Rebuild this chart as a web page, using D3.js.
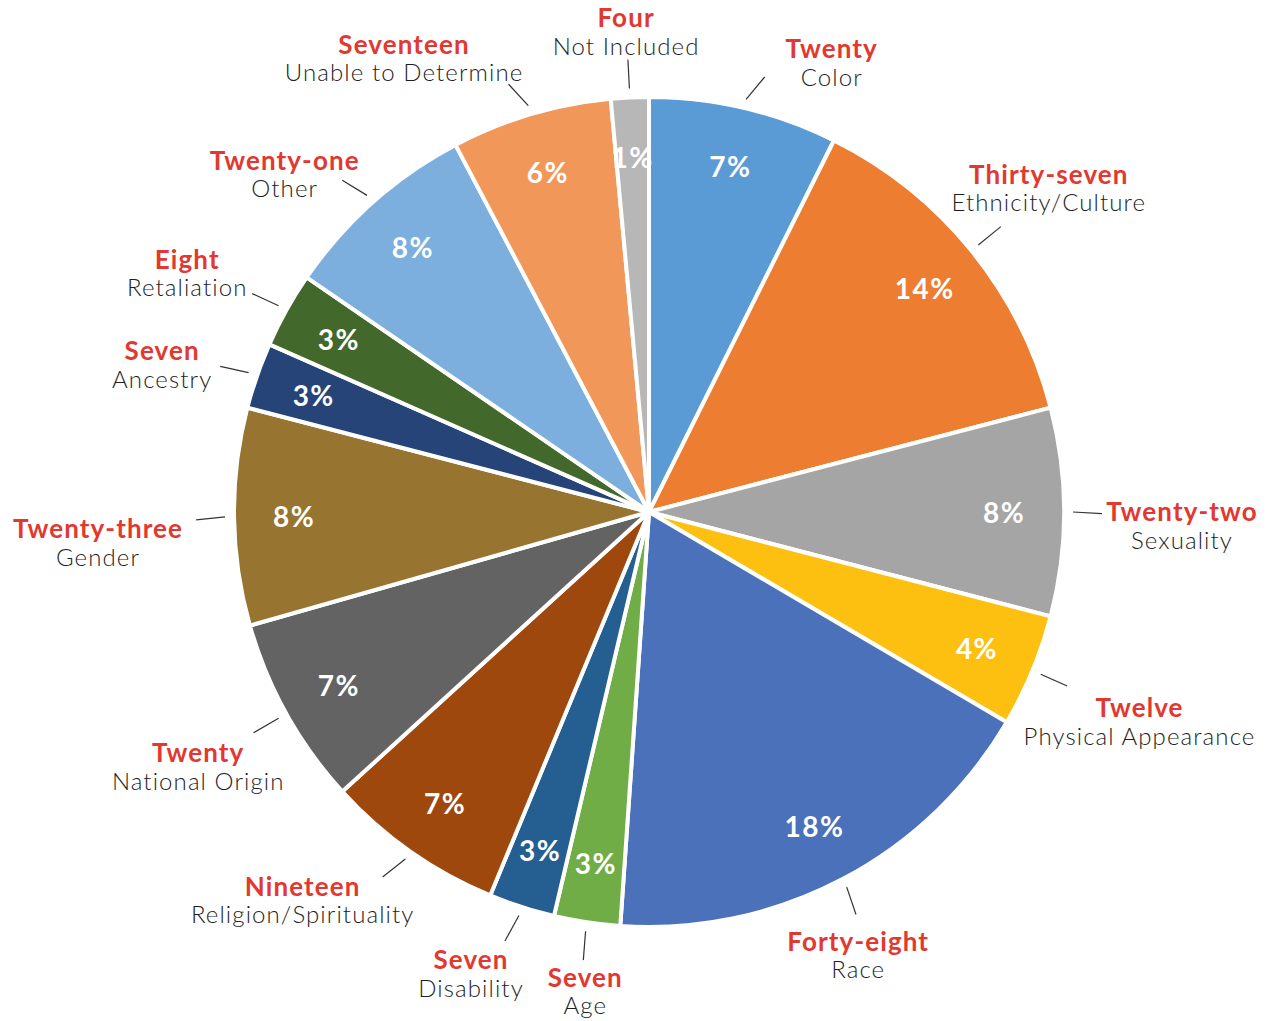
<!DOCTYPE html>
<html>
<head>
<meta charset="utf-8">
<script src="https://cdn.jsdelivr.net/npm/d3@7"></script>
<style>
  body { margin: 0; background: #fff; }
  svg { display: block; font-family: Lato, "Open Sans", sans-serif; }
  .count { fill: #e2382f; font-weight: 700; font-size: 26px; letter-spacing: 1.1px; }
  .cat { fill: #1e1e1e; font-weight: 300; font-size: 24px; letter-spacing: 1.1px; }
  .pct { fill: #fff; font-weight: 700; font-size: 28px; letter-spacing: 1.5px; }
</style>
</head>
<body>
<svg id="chart" width="1270" height="1021"></svg>
<script>
// data ------------------
const categories = ["Color", "Ethnicity/Culture", "Sexuality", "Physical Appearance", "Race",
  "Age", "Disability", "Religion/Spirituality", "National Origin", "Gender",
  "Ancestry", "Retaliation", "Other", "Unable to Determine", "Not Included"]
const counts = [20, 37, 22, 12, 48, 7, 7, 19, 20, 23, 7, 8, 21, 17, 4]
const countWords = ["Twenty", "Thirty-seven", "Twenty-two", "Twelve", "Forty-eight",
  "Seven", "Seven", "Nineteen", "Twenty", "Twenty-three",
  "Seven", "Eight", "Twenty-one", "Seventeen", "Four"]

// slice colours
const palette = ["#5b9bd5", "#ed7d31", "#a5a5a5", "#fdc010", "#4a71b9",
  "#70ad47", "#255e91", "#9e480e", "#636363", "#977530",
  "#264478", "#43682b", "#7cafdd", "#f1975a", "#b7b7b7"]

// label nudges from the slice's outer label point (layout only)
const labelNudge = [[79, -9], [48, -39], [80, 13], [72, 36], [-2, 42],
  [4, 31], [-39, 30], [-86, 17], [-55, 34], [-98, 25],
  [-59, 1], [-66, -19], [-63, 0], [-116, -20], [-2, -28]]

// config
const cx = 649, cy = 512, r = 415
const total = d3.sum(counts)
const rows = categories.map((c, i) => ({name: c, value: counts[i], word: countWords[i], i}))

const svg = d3.select('#chart')
const g = svg.append('g').attr('transform', `translate(${cx},${cy})`)

const pie = d3.pie().value(d => d.value).sort(null)
const arcs = pie(rows)
const arc = d3.arc().innerRadius(0).outerRadius(r)
const pctArc = d3.arc().innerRadius(355).outerRadius(355)

// slices
g.selectAll('path.slice')
  .data(arcs)
  .join('path')
  .attr('class', 'slice')
  .attr('d', arc)
  .attr('fill', d => palette[d.data.i])
  .attr('stroke', '#fff')
  .attr('stroke-width', 4)
  .attr('stroke-linejoin', 'round')

// percentages
g.selectAll('text.pct')
  .data(arcs)
  .join('text')
  .attr('class', 'pct')
  .attr('transform', d => `translate(${pctArc.centroid(d)})`)
  .attr('text-anchor', 'middle')
  .attr('dominant-baseline', 'central')
  .text(d => Math.round(d.data.value / total * 100) + '%')

// leader lines + labels
const mid = d => (d.startAngle + d.endAngle) / 2
const polar = (a, rad) => [Math.sin(a) * rad, -Math.cos(a) * rad]
const labelPos = d => {
  const [x, y] = polar(mid(d), r + 38)
  const n = labelNudge[d.data.i]
  return [x + n[0], y + n[1]]
}

// leader starts just outside the slice, heading between radial and label
const leader = d => {
  const p0 = polar(mid(d), r + 9)
  const c = labelPos(d)
  const lx = c[0] - p0[0], ly = c[1] - p0[1]
  const ll = Math.hypot(lx, ly)
  const dx = Math.sin(mid(d)) + lx / ll, dy = -Math.cos(mid(d)) + ly / ll
  const len = Math.hypot(dx, dy)
  return [p0, [p0[0] + dx / len * 29, p0[1] + dy / len * 29]]
}

g.selectAll('line.leader')
  .data(arcs)
  .join('line')
  .attr('class', 'leader')
  .attr('x1', d => leader(d)[0][0])
  .attr('y1', d => leader(d)[0][1])
  .attr('x2', d => leader(d)[1][0])
  .attr('y2', d => leader(d)[1][1])
  .attr('stroke', '#333')
  .attr('stroke-width', 1.2)

const labels = g.selectAll('g.label')
  .data(arcs)
  .join('g')
  .attr('class', 'label')
  .attr('transform', d => `translate(${labelPos(d)})`)

labels.append('text')
  .attr('class', 'count')
  .attr('text-anchor', 'middle')
  .attr('dominant-baseline', 'central')
  .attr('y', -14)
  .text(d => d.data.word)

labels.append('text')
  .attr('class', 'cat')
  .attr('text-anchor', 'middle')
  .attr('dominant-baseline', 'central')
  .attr('y', 14)
  .text(d => d.data.name)
</script>
</body>
</html>
